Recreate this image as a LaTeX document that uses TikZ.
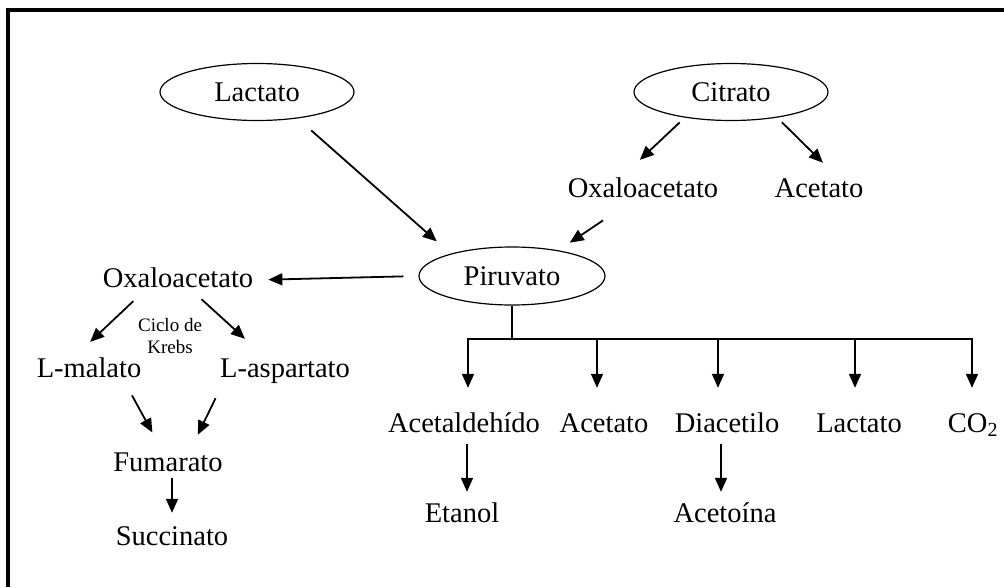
\documentclass[tikz,border=0pt]{standalone}
\usepackage{fontspec}
\setmainfont{Liberation Serif}
\usetikzlibrary{shapes.geometric,arrows.meta,calc}
\begin{document}
\begin{tikzpicture}[x=1pt,y=-1pt,
  lbl/.style={inner sep=0pt,text height=20pt,text depth=6pt,anchor=base,
              font=\fontsize{28.5}{34}\selectfont},
  oval/.style={ellipse,draw,line width=1.2pt,minimum width=194pt,minimum height=57pt,
               inner sep=0pt,font=\fontsize{28.5}{34}\selectfont},
  arr/.style={line width=1.8pt,-{Triangle[length=14pt,width=12pt]}},
  link/.style={line width=1.8pt}]
\useasboundingbox (0,0) rectangle (1004,587);
% frame
\draw[line width=4pt] (8,587) -- (8,10) -- (1004,10);

% sources
\node[oval] (lac) at (257,92) {Lactato};
\node[oval] (cit) at (731,92) {Citrato};
\node[oval,minimum width=186pt,minimum height=58pt] (pir) at (512,276) {Piruvato};

\node[lbl] (oxa1) at (643,197) {Oxaloacetato};
\node[lbl] (ace1) at (819,197) {Acetato};

% Krebs branch
\node[lbl] (oxa2) at (178,287) {Oxaloacetato};
\node[inner sep=0pt,align=center,font=\fontsize{19}{22}\selectfont] (krebs) at (170,336) {Ciclo de\\Krebs};
\node[lbl] (mal) at (89,377) {L-malato};
\node[lbl] (asp) at (285,377) {L-aspartato};
\node[lbl] (fum) at (168,471) {Fumarato};
\node[lbl] (suc) at (172,545) {Succinato};

% fermentation products
\node[lbl] (acd) at (464,432) {Acetaldehído};
\node[lbl] (ace2) at (604,432) {Acetato};
\node[lbl] (dia) at (727,432) {Diacetilo};
\node[lbl] (lac2) at (859,432) {Lactato};
\node[lbl] (co2) at (973,432) {CO\textsubscript{2}};
\node[lbl] (eta) at (462,522) {Etanol};
\node[lbl] (act) at (725,522) {Acetoína};

% upper arrows
\draw[arr,shorten <=18pt,shorten >=18.5pt] (lac.-33.4) -- (pir.160);
\draw[arr,shorten <=7pt,shorten >=24.7pt] (cit.-151.3) -- (oxa1.148.1);
\draw[arr,shorten <=6.6pt,shorten >=20pt] (cit.-29.8) -- (ace1.36.9);
\draw[arr,shorten <=31pt,shorten >=13.7pt] (oxa1.-137.3) -- (pir.29.8);

% Krebs cycle arrows
\draw[arr,shorten <=15pt,shorten >=15pt] (pir.west) -- (oxa2.east);
\draw[arr,shorten <=11.6pt,shorten >=21.7pt] (oxa2.-160.4) -- (mal.138.5);
\draw[arr,shorten <=8.9pt,shorten >=26.7pt] (oxa2.-38.4) -- (asp.147.2);
\draw[arr,shorten <=13.9pt,shorten >=20.8pt] (mal.-20.9) -- (fum.113.3);
\draw[arr,shorten <=16.7pt,shorten >=17.8pt] (asp.-168.3) -- (fum.31.5);
\draw[arr,shorten <=1pt,shorten >=12pt] (fum.south -| suc.north) -- (suc.north);

% branching tree below pyruvate
\coordinate (b1) at (468,339);
\coordinate (b2) at (597,339);
\coordinate (b3) at (718,339);
\coordinate (b4) at (855,339);
\coordinate (b5) at (972,339);
\draw[link] (pir.south) -- (pir.south |- b1);
\draw[link] ([xshift=-0.9pt]b1) -- ([xshift=0.9pt]b5);
\draw[arr,shorten >=24pt] (b1) -- (b1 |- acd.north);
\draw[arr,shorten >=24pt] (b2) -- (b2 |- ace2.north);
\draw[arr,shorten >=24pt] (b3) -- (b3 |- dia.north);
\draw[arr,shorten >=24pt] (b4) -- (b4 |- lac2.north);
\draw[arr,shorten >=24pt] (b5) -- (b5 |- co2.north);

\draw[arr,shorten <=6pt,shorten >=10pt] ([xshift=3pt]acd.south) -- ([xshift=3pt]acd.south |- eta.north);
\draw[arr,shorten <=6pt,shorten >=10pt] ([xshift=-6pt]dia.south) -- ([xshift=-6pt]dia.south |- act.north);
\end{tikzpicture}
\end{document}
